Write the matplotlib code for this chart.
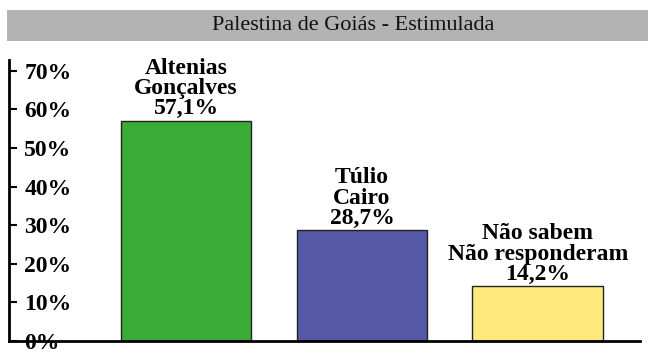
import matplotlib
matplotlib.use("Agg")
import matplotlib.pyplot as plt
from matplotlib.patches import Rectangle
from matplotlib.ticker import FixedLocator

title = "Palestina de Goiás - Estimulada"
candidates = ["Altenias\nGonçalves", "Túlio\nCairo", "Não sabem\nNão responderam"]
values = [57.1, 28.7, 14.2]
value_labels = ["57,1%", "28,7%", "14,2%"]
bar_colors = ["#3aab37", "#5458a6", "#ffe97b"]
y_ticks = [0, 10, 20, 30, 40, 50, 60, 70]
y_tick_labels = ["0%", "10%", "20%", "30%", "40%", "50%", "60%", "70%"]

FONT = "Liberation Serif"
W, H = 663, 355

fig = plt.figure(figsize=(W / 100, H / 100), dpi=100)

# gray title band
fig.patches.append(Rectangle((7 / W, 1 - 41 / H), 641 / W, 31 / H,
                             transform=fig.transFigure, facecolor="#b3b3b3",
                             edgecolor="none", zorder=0))
fig.text(353 / W, 1 - 25.5 / H, title, ha="center", va="center",
         fontsize=16, family=FONT, color="#111111")

ax = fig.add_axes([9 / W, 1 - 341 / H, 631 / W, 281 / H])
x = range(len(candidates))
bars = ax.bar(x, values, width=0.744, color=bar_colors,
              edgecolor="#222222", linewidth=1.0, zorder=2)

for i, b in enumerate(bars):
    ax.annotate(candidates[i] + "\n" + value_labels[i],
                (b.get_x() + b.get_width() / 2, b.get_height()),
                xytext=(0, 1), textcoords="offset points",
                ha="center", va="bottom", fontsize=17, fontweight="bold",
                family=FONT, linespacing=0.95)

ax.set_xlim(-1.006, 2.58)
ax.set_ylim(0, 72.8)
ax.yaxis.set_major_locator(FixedLocator(y_ticks))
ax.set_yticklabels(y_tick_labels, fontsize=17, fontweight="bold", family=FONT)
for lbl in ax.get_yticklabels():
    lbl.set_horizontalalignment("left")
ax.tick_params(axis="y", direction="in", length=6, width=1.5, pad=-11)
ax.set_xticks([])

for side in ("top", "right"):
    ax.spines[side].set_visible(False)
ax.spines["left"].set_linewidth(2)
ax.spines["bottom"].set_linewidth(2)

fig.savefig("out.png", dpi=100)
